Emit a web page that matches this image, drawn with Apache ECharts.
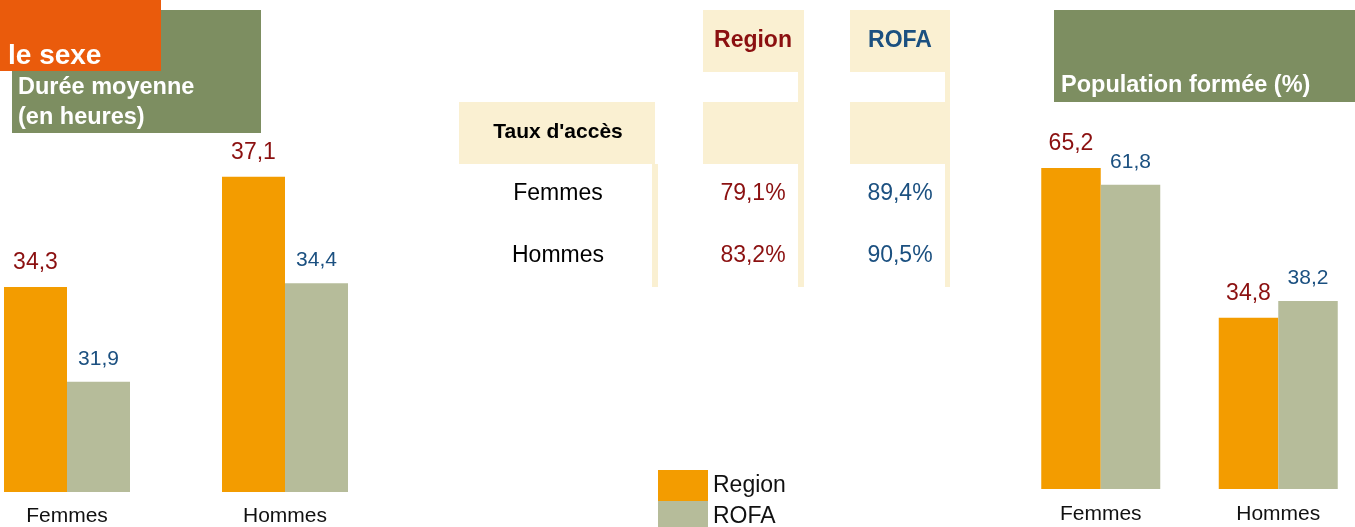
<!DOCTYPE html>
<html>
<head>
<meta charset="utf-8">
<script src="https://cdn.jsdelivr.net/npm/echarts@6/dist/echarts.min.js"></script>
<style>
  html, body { margin: 0; padding: 0; background: #fff; }
  #main { width: 1355px; height: 527px; }
</style>
</head>
<body>
<div id="main"></div>
<script>
// données
const categories = ["Femmes", "Hommes"];
const seriesNames = ["Region", "ROFA"];
const dureeRegion = [34.3, 37.1];
const dureeRofa = [31.9, 34.4];
const popRegion = [65.2, 34.8];
const popRofa = [61.8, 38.2];
const tauxRows = ["Femmes", "Hommes"];
const tauxRegion = [79.1, 83.2];
const tauxRofa = [89.4, 90.5];

const FONT = "'Liberation Sans', Arial, sans-serif";
const ORANGE = "#F39C00";
const SAUGE = "#B6BC9A";
const ROUGE = "#8B1010";
const BLEU = "#1B5080";
const CREME = "#FAF0D2";
const VERT = "#7D8E61";

function fr(v) {
  return v.toFixed(1).replace(".", ",");
}

// libellés des barres
function barLabel(color, size, dist) {
  return {
    show: true,
    position: "top",
    distance: dist,
    color: color,
    fontSize: size,
    fontFamily: FONT,
    formatter: function (p) { return fr(p.value); }
  };
}

// texte posé sur la ligne de base
function txt(x, baseline, text, size, color, bold, align) {
  return {
    type: "text",
    x: x,
    y: baseline - 0.32 * size,
    style: {
      text: text,
      fill: color,
      font: (bold ? "bold " : "") + size + "px " + FONT,
      textAlign: align || "left",
      textVerticalAlign: "middle"
    }
  };
}

function box(x, y, w, h, color) {
  return { type: "rect", shape: { x: x, y: y, width: w, height: h }, style: { fill: color } };
}

// titres + tableau "Taux d'accès"
const graphics = [
  box(12, 10, 249, 123, VERT),
  box(0, 0, 161, 71, "#EA5B0C"),
  txt(8, 65, "le sexe", 28, "#fff", true),
  txt(18, 95, "Durée moyenne", 23.5, "#fff", true),
  txt(18, 125, "(en heures)", 23.5, "#fff", true),
  box(1054, 10, 301, 92, VERT),
  txt(1061, 93, "Population formée (%)", 23.5, "#fff", true),

  box(703, 10, 101, 62, CREME),
  box(798, 72, 6, 215, CREME),
  box(703, 102, 95, 62, CREME),
  box(850, 10, 100, 62, CREME),
  box(945, 72, 5, 215, CREME),
  box(850, 102, 95, 62, CREME),
  box(459, 102, 196, 62, CREME),
  box(652, 164, 6, 123, CREME),

  txt(753, 48.5, seriesNames[0], 23, ROUGE, true, "center"),
  txt(900, 48.5, seriesNames[1], 23, BLEU, true, "center"),
  txt(558, 138.5, "Taux d'accès", 21, "#000", true, "center")
];
const rowBase = [201, 263];
tauxRows.forEach(function (r, i) {
  graphics.push(txt(558, rowBase[i], r, 23, "#000", false, "center"));
  graphics.push(txt(753, rowBase[i], fr(tauxRegion[i]) + "%", 23, ROUGE, false, "center"));
  graphics.push(txt(900, rowBase[i], fr(tauxRofa[i]) + "%", 23, BLEU, false, "center"));
});

const myChart = echarts.init(document.getElementById("main"));

const axisX = function (idx, margin) {
  return {
    type: "category",
    gridIndex: idx,
    data: categories,
    axisLine: { show: false },
    axisTick: { show: false },
    axisLabel: { margin: margin, fontSize: 21, color: "#111", fontFamily: FONT }
  };
};

const option = {
  animation: false,
  textStyle: { fontFamily: FONT },
  legend: {
    orient: "vertical",
    left: 658,
    top: 470,
    height: 80,
    padding: 0,
    itemGap: 0,
    itemWidth: 50,
    itemHeight: 31,
    icon: "rect",
    data: seriesNames,
    textStyle: { fontSize: 23, color: "#111", fontFamily: FONT }
  },
  grid: [
    { left: -42, width: 436, top: 150, height: 342, outerBoundsMode: "none", containLabel: false },
    { left: 1012, width: 355, top: 150, height: 339, outerBoundsMode: "none", containLabel: false }
  ],
  xAxis: [axisX(0, 14), axisX(1, 15)],
  yAxis: [
    { type: "value", gridIndex: 0, min: 29.1, max: 37.78, show: false, splitLine: { show: false } },
    { type: "value", gridIndex: 1, min: 0, max: 68.86, show: false, splitLine: { show: false } }
  ],
  series: [
    {
      name: seriesNames[0], type: "bar", xAxisIndex: 0, yAxisIndex: 0,
      barWidth: 63, barGap: "0%", itemStyle: { color: ORANGE },
      label: barLabel(ROUGE, 23, 13), data: dureeRegion
    },
    {
      name: seriesNames[1], type: "bar", xAxisIndex: 0, yAxisIndex: 0,
      barWidth: 63, barGap: "0%", itemStyle: { color: SAUGE },
      label: barLabel(BLEU, 21, 12), data: dureeRofa
    },
    {
      name: seriesNames[0], type: "bar", xAxisIndex: 1, yAxisIndex: 1,
      barWidth: 59.5, barGap: "0%", itemStyle: { color: ORANGE },
      label: barLabel(ROUGE, 23, 13), data: popRegion
    },
    {
      name: seriesNames[1], type: "bar", xAxisIndex: 1, yAxisIndex: 1,
      barWidth: 59.5, barGap: "0%", itemStyle: { color: SAUGE },
      label: barLabel(BLEU, 21, 12), data: popRofa
    }
  ],
  graphic: graphics
};

myChart.setOption(option);
</script>
</body>
</html>
